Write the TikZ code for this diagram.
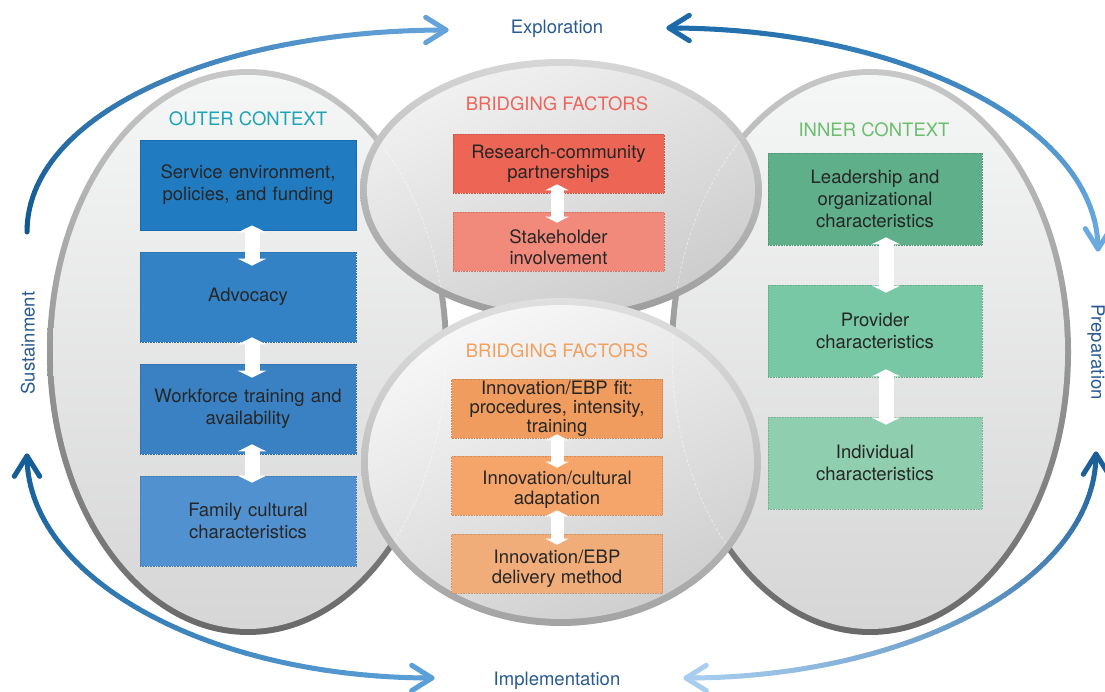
\documentclass[tikz,border=0pt]{standalone}
\usepackage{fontspec}
\setmainfont{TeX Gyre Heros}
\usetikzlibrary{arrows.meta,calc}
\definecolor{boxtext}{RGB}{38,38,38}
\definecolor{lab}{RGB}{40,90,145}
\definecolor{o1}{RGB}{33,123,193}\definecolor{o1b}{RGB}{25,105,175}
\definecolor{o2}{RGB}{52,130,198}
\definecolor{o3}{RGB}{58,129,196}
\definecolor{o4}{RGB}{82,145,207}
\definecolor{i1}{RGB}{94,175,138}
\definecolor{i2}{RGB}{120,200,165}
\definecolor{i3}{RGB}{143,207,175}
\definecolor{t1}{RGB}{236,101,85}
\definecolor{t2}{RGB}{242,138,124}
\definecolor{b1}{RGB}{239,156,94}
\definecolor{b2}{RGB}{246,165,106}
\definecolor{b3}{RGB}{240,173,122}
\definecolor{ttlouter}{RGB}{28,163,181}
\definecolor{ttltop}{RGB}{236,100,90}
\definecolor{ttlinner}{RGB}{106,190,110}
\definecolor{ttlbot}{RGB}{240,160,95}
\definecolor{bordtop}{RGB}{200,200,200}
\definecolor{bordbot}{RGB}{105,105,105}
\definecolor{filltop}{RGB}{245,246,246}
\definecolor{fillbot}{RGB}{214,214,214}
\definecolor{aA}{RGB}{15,87,144}\definecolor{aAe}{RGB}{100,163,218}
\definecolor{aB}{RGB}{28,106,168}\definecolor{aBe}{RGB}{106,170,224}
\definecolor{aC}{RGB}{20,93,150}\definecolor{aCe}{RGB}{90,159,216}
\definecolor{aD}{RGB}{26,95,152}\definecolor{aDe}{RGB}{168,205,238}
\newcommand{\gradpath}[6]{%
  \foreach \i in {0,...,59}{%
    \pgfmathsetmacro{\ta}{\i/60}%
    \pgfmathsetmacro{\tb}{(\i+1)/60}%
    \pgfmathtruncatemacro{\pc}{100-\i*100/59}%
    \path #1 .. controls #2 and #3 .. #4 coordinate[pos=\ta] (gA) coordinate[pos=\tb] (gB);
    \draw[line width=5pt, line cap=round, color=#5!\pc!#6] (gA) -- (gB);
  }}
\newcommand{\headat}[3]{%
  \draw[line width=5pt, line cap=round, line join=round, color=#3]
    ($#1!24pt!32:#2$) -- #1 -- ($#1!24pt!-32:#2$);}
\newcommand{\ghostlines}{%
  \draw[white, opacity=0.7, line width=0.5pt, dash pattern=on 3pt off 2pt] (248,352) ellipse (198pt and 280pt);
  \draw[white, opacity=0.7, line width=0.5pt, dash pattern=on 3pt off 2pt] (870,352) ellipse (198pt and 280pt);}
\tikzset{
  bx/.style={rectangle, inner sep=0pt, align=center, text=boxtext,
    font=\fontsize{18.5}{22}\selectfont},
  brtext/.style={inner sep=0pt, align=center, text=boxtext,
    font=\fontsize{18.5}{20.5}\selectfont},
  obox/.style={bx, minimum width=216pt, minimum height=90pt, text width=212pt},
  ibox/.style={bx, minimum width=214pt, minimum height=92pt, text width=210pt},
  brbox/.style={bx, font=\fontsize{18.5}{20}\selectfont, minimum width=211pt, minimum height=59pt, text width=208pt},
  dotb/.style={draw=#1, densely dotted, line width=0.6pt},
  dblarrow/.style={draw=white, line width=15pt,
    {Triangle[width=28pt,length=7pt]}-{Triangle[width=28pt,length=7pt]}},
  dblsmall/.style={draw=white, line width=13pt,
    {Triangle[width=23pt,length=6pt]}-{Triangle[width=23pt,length=6pt]}},
  ttl/.style={font=\fontsize{18.5}{20}\selectfont},
  phase/.style={font=\fontsize{18.5}{20}\selectfont, text=lab}
}
\begin{document}
\begin{tikzpicture}[x=1pt,y=-1pt]
\useasboundingbox (0,0) rectangle (1105,692);
% outer context ellipse
\shade[top color=bordtop, bottom color=bordbot] (248,352) ellipse (201pt and 283pt);
\shade[top color=filltop, bottom color=fillbot] (248,352) ellipse (195pt and 277pt);
% inner context ellipse
\shade[top color=bordtop, bottom color=bordbot] (870,352) ellipse (201pt and 283pt);
\shade[top color=filltop, bottom color=fillbot] (870,352) ellipse (195pt and 277pt);
% top bridging ellipse
\shade[top color=gray!32, bottom color=gray!78] (561,190) ellipse (201pt and 131pt);
\shade[top color=gray!11, bottom color=gray!40, shading angle=25] (561,190) ellipse (194pt and 124pt);
\begin{scope}
  \clip (561,190) ellipse (194pt and 124pt);
  \ghostlines
\end{scope}
% bottom bridging ellipse
\shade[top color=gray!25, bottom color=gray!72] (561,462) ellipse (200pt and 164pt);
\shade[top color=gray!6, bottom color=gray!38, shading angle=25] (561,462) ellipse (193pt and 157pt);
\begin{scope}
  \clip (561,462) ellipse (193pt and 157pt);
  \ghostlines
\end{scope}

% titles
\node[ttl, text=ttlouter] (tout) at (248,119) {OUTER CONTEXT};
\node[ttl, text=ttltop] (ttop) at (557,104) {BRIDGING FACTORS};
\node[ttl, text=ttlinner] (tin) at (874,130) {INNER CONTEXT};
\node[ttl, text=ttlbot] (tbot) at (557,351) {BRIDGING FACTORS};

% outer boxes
\node[obox, fill=o1, draw=o1b, line width=0.8pt] (o1) at (248,185) {Service environment,\\policies, and funding};
\node[obox, fill=o2, dotb=o2!85!black] (o2) at (248,297) {Advocacy};
\node[obox, fill=o3, dotb=o3!85!black] (o3) at (248,409) {Workforce training and\\availability};
\node[obox, fill=o4, dotb=o4!85!black] (o4) at (248,521) {Family cultural\\characteristics};
\draw[dblarrow] ([xshift=4pt,yshift=5pt]o1.south) -- ([xshift=4pt,yshift=-14pt]o2.north);
\draw[dblarrow] ([xshift=4pt,yshift=5pt]o2.south) -- ([xshift=4pt,yshift=-14pt]o3.north);
\draw[dblarrow] ([xshift=4pt,yshift=10pt]o3.south) -- ([xshift=4pt,yshift=-7pt]o4.north);

% inner boxes
\node[ibox, fill=i1, dotb=i1!85!black] (i1) at (875,199) {Leadership and\\organizational\\characteristics};
\node[ibox, fill=i2, dotb=i2!85!black] (i2) at (875,331) {Provider\\characteristics};
\node[ibox, fill=i3, dotb=i3!85!black] (i3) at (875,463) {Individual\\characteristics};
\draw[dblarrow] ([xshift=11pt,yshift=8pt]i1.south) -- ([xshift=11pt,yshift=-8pt]i2.north);
\draw[dblarrow] ([xshift=11pt,yshift=8pt]i2.south) -- ([xshift=11pt,yshift=-8pt]i3.north);

% top bridging boxes
\node[brbox, fill=t1, dotb=t1!85!black] (t1) at (558.5,163.5) {Research-community\\partnerships};
\node[brbox, fill=t2, dotb=t2!85!black] (t2) at (558.5,241.5) {};
\node[brtext] (t2t) at (558.5,247) {Stakeholder\\involvement};
\draw[dblsmall] ([xshift=-1.5pt,yshift=9pt]t1.south) -- ([xshift=-1.5pt,yshift=-11pt]t2.north);

% bottom bridging boxes
\node[brbox, fill=b1, dotb=b1!85!black, font=\fontsize{18.5}{19}\selectfont] (b1) at (557,408.5) {Innovation/EBP fit:\\procedures, intensity,\\training};
\node[brbox, fill=b2, dotb=b2!85!black] (b2) at (557,485.5) {};
\node[brtext] (b2t) at (557,490) {Innovation/cultural\\adaptation};
\node[brbox, fill=b3, dotb=b3!85!black] (b3) at (557,563.5) {};
\node[brtext] (b3t) at (557,569) {Innovation/EBP\\delivery method};
\draw[dblsmall] ([yshift=4pt]b1.south) -- ([yshift=-12pt]b2.north);
\draw[dblsmall] ([yshift=5pt]b2.south) -- ([yshift=-11pt]b3.north);

% phase labels
\node[phase] (expl) at (557,29) {Exploration};
\node[phase] (impl) at (557,681) {Implementation};
\node[phase, rotate=90] (sust) at (28,343) {Sustainment};
\node[phase, rotate=-90] (prep) at (1096,352) {Preparation};

% cycle arrows
\coordinate (A0) at (27,232); \coordinate (A1) at (27,115); \coordinate (A2) at (215,30); \coordinate (A3) at (446,30);
\gradpath{(A0)}{(A1)}{(A2)}{(A3)}{aA}{aAe}
\headat{(A3)}{(A2)}{aAe}

\coordinate (B0) at (669,28); \coordinate (B1) at (905,28); \coordinate (B2) at (1098,127); \coordinate (B3) at (1098,249);
\gradpath{(B0)}{(B1)}{(B2)}{(B3)}{aB}{aBe}
\headat{(B0)}{(B1)}{aB}
\headat{(B3)}{(B2)}{aBe}

\coordinate (C0) at (27,456); \coordinate (C1) at (27,578); \coordinate (C2) at (208,678); \coordinate (C3) at (432,678);
\gradpath{(C0)}{(C1)}{(C2)}{(C3)}{aC}{aCe}
\headat{(C0)}{(C1)}{aC}
\headat{(C3)}{(C2)}{aCe}

\coordinate (D0) at (1096,454); \coordinate (D1) at (1096,578); \coordinate (D2) at (912,678); \coordinate (D3) at (686,678);
\gradpath{(D0)}{(D1)}{(D2)}{(D3)}{aD}{aDe}
\headat{(D0)}{(D1)}{aD}
\headat{(D3)}{(D2)}{aDe}
\end{tikzpicture}
\end{document}
